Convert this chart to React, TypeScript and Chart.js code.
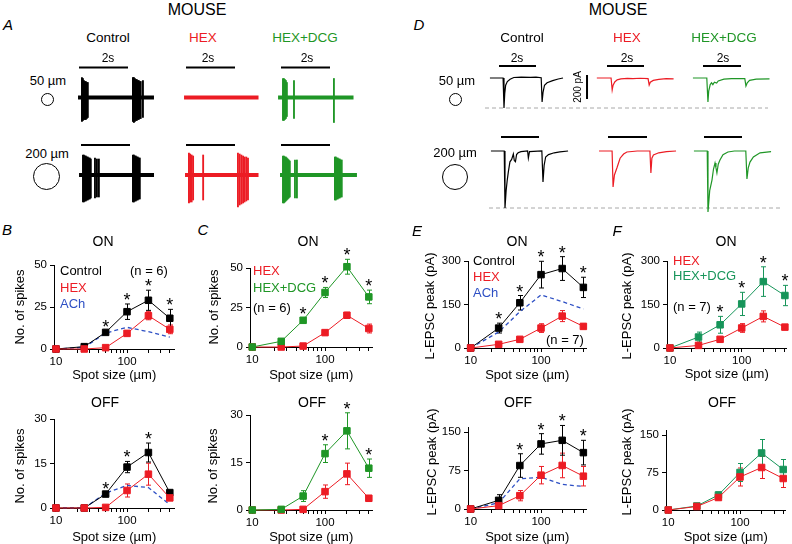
import React, { useEffect, useRef } from 'react';
import { Chart, registerables } from 'chart.js';
Chart.register(...registerables);

const FONT = '"Liberation Sans", Arial, Helvetica, sans-serif';
const BLACK = '#000000';
const RED = '#ec1c24';
const GREEN = '#1f9626';
const TEAL = '#17955a';
const BLUE = '#2d4fc4';
const GRAY = '#a8a8a8';

// ---------------- summary data ----------------
const SPOT_SIZES = [10, 25, 50, 100, 200, 400];
const X_TICKS = [10, 20, 30, 40, 50, 60, 70, 80, 90, 100, 200, 300, 400];
const X_LABELS = [10, 100];

const B_ON_CTRL = [0, 1.4, 9.9, 22.2, 29, 18.3];
const B_ON_CTRL_ERR = [0, 0.6, 0.8, 4.6, 6, 5.3];
const B_ON_HEX = [0, 0, 0.8, 9.3, 19.8, 11.7];
const B_ON_HEX_ERR = [0, 0, 0.5, 1.5, 2.4, 2.6];
const B_ON_ACH = [0, 1, 9.5, 12.9, 10.3, 7];
const B_ON_STARS = [50, 100, 200, 400];

const B_OFF_CTRL = [0, 0, 4.7, 13.8, 18.7, 5.2];
const B_OFF_CTRL_ERR = [0, 0, 0.5, 1.9, 3.2, 0.7];
const B_OFF_HEX = [0, 0, 0.2, 5.9, 11.4, 3.4];
const B_OFF_HEX_ERR = [0, 0, 0.3, 2.2, 3.7, 0.8];
const B_OFF_ACH = [0, 0, 5, 7.6, 6.9, 1.1];
const B_OFF_STARS = [50, 100, 200];

const C_ON_HEX = [0, 0, 0.6, 9.1, 20.1, 11.7];
const C_ON_HEX_ERR = [0, 0, 0.4, 1.5, 1.8, 2.8];
const C_ON_DCG = [0, 3.6, 16.9, 34.5, 50.8, 31.7];
const C_ON_DCG_ERR = [0, 1.5, 1.3, 3.2, 4.7, 4.3];
const C_ON_STARS = [50, 100, 200, 400];

const C_OFF_HEX = [0, 0, 0.2, 5.8, 11.4, 3.7];
const C_OFF_HEX_ERR = [0, 0, 0.3, 2.1, 3.4, 0.9];
const C_OFF_DCG = [0, 0.2, 4.4, 17.8, 25, 13.2];
const C_OFF_DCG_ERR = [0, 0.3, 1.7, 2.8, 5.7, 2.9];
const C_OFF_STARS = [100, 200, 400];

const E_ON_CTRL = [0, 68.7, 156, 253, 274, 209];
const E_ON_CTRL_ERR = [0, 17, 25, 46, 41, 35];
const E_ON_HEX = [0, 12.7, 29.9, 68.7, 110, 74.5];
const E_ON_HEX_ERR = [0, 3, 5, 15, 19, 8];
const E_ON_ACH = [0, 55, 125, 183, 160, 135];
const E_ON_STARS = [25, 50, 100, 200, 400];

const E_OFF_CTRL = [0, 16.9, 84.8, 127, 134, 110];
const E_OFF_CTRL_ERR = [0, 11, 23, 20, 29, 24];
const E_OFF_HEX = [0, 6.5, 26, 66, 85, 64];
const E_OFF_HEX_ERR = [0, 3, 10, 17, 24, 19];
const E_OFF_ACH = [0, 12, 59, 62, 48, 44];
const E_OFF_STARS = [50, 100, 200, 400];

const F_ON_HEX = [0, 9, 30, 69, 109, 72];
const F_ON_HEX_ERR = [0, 3, 5, 15, 19, 8];
const F_ON_DCG = [0, 37.8, 80, 152, 229, 181];
const F_ON_DCG_ERR = [0, 17, 29, 40, 51, 35];
const F_ON_STARS = [50, 100, 200, 400];

const F_OFF_HEX = [0, 7, 25, 66, 85, 63];
const F_OFF_HEX_ERR = [0, 2, 5, 18, 22, 18];
const F_OFF_DCG = [0, 8, 30, 75, 114, 81];
const F_OFF_DCG_ERR = [0, 2, 6, 18, 27, 20];
const F_OFF_STARS: number[] = [];

const SPIKES_TITLE = 'No. of spikes';
const EPSC_TITLE = 'L-EPSC peak (pA)';
const X_TITLE = 'Spot size (µm)';

// ---------------- trace data ----------------
// extracellular spikes: [time s, upper peak, lower peak] (µV, arbitrary)
const A50_CTRL_SPAN = [-0.04, 3.06];
const A50_CTRL_SPIKES = [
  [0.12, 20, -24], [0.16, 19, -23], [0.2, 17, -22], [0.24, 16, -22], [0.28, 16, -22], [0.32, 15, -21], [0.36, 15, -20],
  [2.2, 20, -24], [2.24, 20, -25], [2.28, 19, -24], [2.32, 18, -23], [2.36, 18, -23], [2.4, 17, -22], [2.44, 17, -22],
  [2.48, 16, -21], [2.52, 16, -21], [2.61, 17, -20],
];
const A50_HEX_SPAN = [-0.08, 2.96];
const A50_HEX_SPIKES: number[][] = [];
const A50_DCG_SPAN = [-0.12, 2.96];
const A50_DCG_SPIKES = [
  [0.08, 19, -23], [0.12, 19, -23], [0.16, 18, -22], [0.2, 17, -21], [0.24, 15, -19], [0.53, 17, -21], [2.16, 19, -25],
];
const A200_CTRL_SPAN = [-0.08, 2.98];
const A200_CTRL_SPIKES = [
  [0.08, 20, -27], [0.12, 20, -27], [0.16, 19, -26], [0.2, 19, -26], [0.24, 18, -25], [0.28, 18, -25], [0.32, 17, -24],
  [0.36, 17, -24], [0.4, 16, -23], [0.57, 17, -23], [0.65, 16, -22], [0.73, 16, -22],
  [2.12, 20, -27], [2.16, 20, -27], [2.2, 19, -26], [2.24, 19, -26], [2.28, 18, -25], [2.32, 18, -25], [2.36, 17, -24], [2.4, 17, -24],
];
const A200_HEX_SPAN = [-0.04, 2.96];
const A200_HEX_SPIKES = [
  [0.12, 22, -28], [0.17, 21, -27], [0.23, 20, -27], [0.29, 19, -25], [0.7, 20, -25],
  [2.12, 22, -32], [2.19, 21, -30], [2.26, 20, -29], [2.33, 19, -28], [2.39, 18, -27], [2.46, 18, -26], [2.53, 17, -25],
];
const A200_DCG_SPAN = [-0.04, 3.1];
const A200_DCG_SPIKES = [
  [0.08, 19, -28], [0.12, 19, -28], [0.16, 18, -27], [0.2, 18, -26], [0.24, 17, -25], [0.28, 16, -24], [0.32, 15, -23],
  [0.36, 14, -22], [0.57, 15, -23], [0.65, 15, -23],
  [2.2, 18, -25], [2.24, 18, -25], [2.28, 17, -24], [2.32, 17, -24], [2.36, 16, -23], [2.4, 16, -23], [2.44, 15, -22], [2.48, 15, -22],
];

// L-EPSC currents: [time s, pA]
const D50_CTRL = [[-0.49, 0], [0.22, 0], [0.27, -250], [0.31, -130], [0.36, -60], [0.45, -30], [0.6, -10], [0.8, 4], [1.2, 8], [1.7, 6], [2.0, 8], [2.28, 2], [2.33, -200], [2.38, -120], [2.46, -60], [2.6, -40], [2.9, -22], [3.2, -8], [3.46, 0]];
const D50_HEX = [[-0.55, 0], [0.22, 0], [0.28, -100], [0.33, -60], [0.42, -33], [0.55, -15], [0.75, -8], [1.1, -3], [1.4, -6], [1.8, -2], [2.22, -5], [2.28, -58], [2.34, -35], [2.5, -20], [2.8, -12], [3.2, -6], [3.6, -8]];
const D50_DCG = [[-0.53, 0], [0.2, 0], [0.26, -200], [0.3, -110], [0.38, -55], [0.45, -40], [0.52, -55], [0.6, -35], [0.72, -42], [0.8, -25], [1.1, -10], [1.5, -5], [2.2, -5], [2.26, -67], [2.33, -40], [2.45, -20], [2.8, -10], [3.5, -8]];
const D200_CTRL = [[-0.53, 0], [0.17, 0], [0.21, -475], [0.27, -330], [0.33, -240], [0.39, -170], [0.47, -90], [0.56, -70], [0.65, -25], [0.7, -80], [0.76, -90], [0.82, -30], [0.9, -15], [1.05, -5], [1.4, 0], [1.44, -58], [1.5, -5], [2.15, 0], [2.21, -258], [2.27, -120], [2.35, -50], [2.5, -30], [2.8, -15], [3.1, -8], [3.53, 0]];
const D200_HEX = [[-0.46, 0], [0.21, 0], [0.26, -300], [0.33, -200], [0.46, -140], [0.62, -60], [0.8, -25], [0.97, -8], [1.5, 0], [2.15, 0], [2.2, -183], [2.25, -60], [2.33, -33], [2.6, -15], [3.0, -5], [3.49, 0]];
const D200_DCG = [[-0.53, 0], [0.17, 0], [0.21, -508], [0.3, -330], [0.42, -242], [0.5, -150], [0.58, -100], [0.63, -140], [0.68, -183], [0.75, -110], [0.84, -75], [1.0, -30], [1.26, -8], [1.6, 0], [2.2, 0], [2.26, -233], [2.33, -140], [2.42, -92], [2.6, -50], [2.95, -15], [3.53, -5]];
const D50_PEAK = -250;
const D200_PEAK = -475;
const STIM_DURATION = 2;
const SCALE_BAR_PA = 200;

// ---------------- layout helpers ----------------
type Box = { left: number; top: number; width: number; height: number };

function ChartBox({ box, make }: { box: Box; make: () => any }) {
  const ref = useRef<HTMLCanvasElement>(null);
  useEffect(() => {
    const chart = new Chart(ref.current as HTMLCanvasElement, make());
    return () => chart.destroy();
  }, []);
  return (
    <div style={{ position: 'absolute', left: box.left, top: box.top, width: box.width, height: box.height }}>
      <canvas ref={ref} width={box.width} height={box.height} style={{ width: box.width, height: box.height, display: 'block' }} />
    </div>
  );
}

type Series = { values: number[]; errors?: number[]; color: string; dashed?: boolean };
type Geo = { axisL: number; axisR: number; x10: number; dec: number; y0: number; ppu: number; ymax: number; titleY: number; yTitleX: number; yTitleY: number };
type Panel = { geo: Geo; yTicks: number[]; yTitle: string; series: Series[]; stars: number[]; starRef: number };

const YW = 48, PT = 26, PR = 4;

const errorBarPlugin = {
  id: 'errorBars',
  beforeDatasetsDraw(chart: any) {
    const ctx = chart.ctx;
    const xs = chart.scales.x, ys = chart.scales.y;
    chart.data.datasets.forEach((ds: any) => {
      if (!ds.errors) return;
      ctx.save();
      ctx.strokeStyle = ds.borderColor;
      ctx.lineWidth = 1;
      ds.data.forEach((pt: any, i: number) => {
        const e = ds.errors[i];
        if (!e) return;
        const x = Math.round(xs.getPixelForValue(pt.x)) + 0.5;
        const yT = ys.getPixelForValue(pt.y + e);
        const yB = ys.getPixelForValue(Math.max(pt.y - e, 0));
        ctx.beginPath();
        ctx.moveTo(x, yT); ctx.lineTo(x, yB);
        ctx.moveTo(x - 2.5, yT); ctx.lineTo(x + 2.5, yT);
        ctx.moveTo(x - 2.5, yB); ctx.lineTo(x + 2.5, yB);
        ctx.stroke();
      });
      ctx.restore();
    });
  },
};

function starPlugin(stars: number[], ref: Series) {
  return {
    id: 'stars',
    afterDatasetsDraw(chart: any) {
      const ctx = chart.ctx;
      const xs = chart.scales.x, ys = chart.scales.y;
      ctx.save();
      ctx.fillStyle = BLACK;
      ctx.font = `18px ${FONT}`;
      ctx.textAlign = 'center';
      ctx.textBaseline = 'alphabetic';
      stars.forEach((s) => {
        const i = SPOT_SIZES.indexOf(s);
        const top = ref.values[i] + (ref.errors ? ref.errors[i] : 0);
        ctx.fillText('*', xs.getPixelForValue(s), ys.getPixelForValue(top) + 2);
      });
      ctx.restore();
    },
  };
}

function yTitlePlugin(text: string, x: number, y: number) {
  return {
    id: 'yTitle',
    afterDraw(chart: any) {
      const ctx = chart.ctx;
      ctx.save();
      ctx.translate(x, y);
      ctx.rotate(-Math.PI / 2);
      ctx.fillStyle = BLACK;
      ctx.font = `13px ${FONT}`;
      ctx.textAlign = 'center';
      ctx.textBaseline = 'middle';
      ctx.fillText(text, 0, 0);
      ctx.restore();
    },
  };
}

function plotSetup(p: Panel): { box: Box; make: () => any } {
  const g = p.geo;
  const y0 = Math.round(g.y0);
  const top = Math.round(y0 - g.ymax * g.ppu);
  const XH = Math.round(g.titleY - y0 + 7.8);
  const box = { left: g.axisL - YW, top: top - PT, width: g.axisR - g.axisL + YW + PR, height: y0 - top + PT + XH };
  const xmin = 10 * Math.pow(10, (g.axisL - g.x10) / g.dec);
  const xmax = 10 * Math.pow(10, (g.axisR - g.x10) / g.dec);
  const tickFont = { family: FONT, size: 11.5 };
  const make = () => ({
    type: 'scatter',
    data: {
      datasets: p.series.map((s) => ({
        data: SPOT_SIZES.map((x, i) => ({ x, y: s.values[i] })),
        errors: s.errors,
        showLine: true,
        borderColor: s.color,
        backgroundColor: s.color,
        borderWidth: s.dashed ? 1.3 : 1,
        borderDash: s.dashed ? [4, 3] : [],
        pointStyle: 'rect',
        pointRadius: s.dashed ? 0 : 4.6,
        pointBackgroundColor: s.color,
        pointBorderColor: s.color,
        pointBorderWidth: 1,
        tension: 0,
        clip: false,
      })),
    },
    options: {
      animation: false,
      responsive: false,
      events: [],
      layout: { padding: { top: PT, right: PR, left: 0, bottom: 0 } },
      plugins: { legend: { display: false }, tooltip: { enabled: false }, title: { display: false } },
      scales: {
        x: {
          type: 'logarithmic',
          min: xmin,
          max: xmax,
          afterBuildTicks: (s: any) => { s.ticks = X_TICKS.map((v) => ({ value: v })); },
          afterFit: (s: any) => { s.height = XH; },
          ticks: {
            autoSkip: false, maxRotation: 0, minRotation: 0, color: BLACK, font: tickFont, padding: 2,
            callback: (v: any) => (X_LABELS.includes(Number(v)) ? String(v) : ''),
          },
          grid: { display: true, drawOnChartArea: false, drawTicks: true, tickLength: 4, color: BLACK },
          border: { display: true, color: BLACK, width: 1 },
          title: { display: true, text: X_TITLE, color: BLACK, font: { family: FONT, size: 13 }, padding: 0 },
        },
        y: {
          type: 'linear',
          min: 0,
          max: g.ymax,
          afterBuildTicks: (s: any) => { s.ticks = p.yTicks.map((v) => ({ value: v })); },
          afterFit: (s: any) => { s.width = YW; },
          ticks: { color: BLACK, font: tickFont, padding: 3 },
          grid: { display: true, drawOnChartArea: false, drawTicks: true, tickLength: 4, color: BLACK },
          border: { display: true, color: BLACK, width: 1 },
        },
      },
    },
    plugins: [
      errorBarPlugin,
      starPlugin(p.stars, p.series[p.starRef]),
      yTitlePlugin(p.yTitle, g.yTitleX - box.left, g.yTitleY - box.top),
    ],
  });
  return { box, make };
}

const PANELS: Panel[] = [
  {
    geo: { axisL: 54, axisR: 176, x10: 56, dec: 72, y0: 349, ppu: 1.68, ymax: 50, titleY: 375, yTitleX: 20, yTitleY: 307 },
    yTicks: [0, 25, 50], yTitle: SPIKES_TITLE,
    series: [
      { values: B_ON_HEX, errors: B_ON_HEX_ERR, color: RED },
      { values: B_ON_CTRL, errors: B_ON_CTRL_ERR, color: BLACK },
      { values: B_ON_ACH, color: BLUE, dashed: true },
    ],
    stars: B_ON_STARS, starRef: 1,
  },
  {
    geo: { axisL: 54, axisR: 176, x10: 56, dec: 72, y0: 508, ppu: 2.973, ymax: 30, titleY: 537, yTitleX: 20, yTitleY: 466 },
    yTicks: [0, 15, 30], yTitle: SPIKES_TITLE,
    series: [
      { values: B_OFF_HEX, errors: B_OFF_HEX_ERR, color: RED },
      { values: B_OFF_CTRL, errors: B_OFF_CTRL_ERR, color: BLACK },
      { values: B_OFF_ACH, color: BLUE, dashed: true },
    ],
    stars: B_OFF_STARS, starRef: 1,
  },
  {
    geo: { axisL: 250, axisR: 374, x10: 252.3, dec: 73.7, y0: 347, ppu: 1.576, ymax: 50, titleY: 375, yTitleX: 214, yTitleY: 307 },
    yTicks: [0, 25, 50], yTitle: SPIKES_TITLE,
    series: [
      { values: C_ON_DCG, errors: C_ON_DCG_ERR, color: GREEN },
      { values: C_ON_HEX, errors: C_ON_HEX_ERR, color: RED },
    ],
    stars: C_ON_STARS, starRef: 0,
  },
  {
    geo: { axisL: 250, axisR: 374, x10: 252.3, dec: 73.7, y0: 510, ppu: 3.153, ymax: 30, titleY: 537, yTitleX: 213, yTitleY: 466 },
    yTicks: [0, 15, 30], yTitle: SPIKES_TITLE,
    series: [
      { values: C_OFF_DCG, errors: C_OFF_DCG_ERR, color: GREEN },
      { values: C_OFF_HEX, errors: C_OFF_HEX_ERR, color: RED },
    ],
    stars: C_OFF_STARS, starRef: 0,
  },
  {
    geo: { axisL: 468, axisR: 588, x10: 470.7, dec: 71.3, y0: 348, ppu: 0.2913, ymax: 300, titleY: 375, yTitleX: 430, yTitleY: 306 },
    yTicks: [0, 150, 300], yTitle: EPSC_TITLE,
    series: [
      { values: E_ON_HEX, errors: E_ON_HEX_ERR, color: RED },
      { values: E_ON_CTRL, errors: E_ON_CTRL_ERR, color: BLACK },
      { values: E_ON_ACH, color: BLUE, dashed: true },
    ],
    stars: E_ON_STARS, starRef: 1,
  },
  {
    geo: { axisL: 468, axisR: 588, x10: 470.7, dec: 71.3, y0: 509, ppu: 0.5107, ymax: 160, titleY: 537, yTitleX: 432, yTitleY: 462 },
    yTicks: [0, 75, 150], yTitle: EPSC_TITLE,
    series: [
      { values: E_OFF_HEX, errors: E_OFF_HEX_ERR, color: RED },
      { values: E_OFF_CTRL, errors: E_OFF_CTRL_ERR, color: BLACK },
      { values: E_OFF_ACH, color: BLUE, dashed: true },
    ],
    stars: E_OFF_STARS, starRef: 1,
  },
  {
    geo: { axisL: 667, axisR: 788, x10: 670, dec: 72.7, y0: 348, ppu: 0.2913, ymax: 300, titleY: 374, yTitleX: 627, yTitleY: 306 },
    yTicks: [0, 150, 300], yTitle: EPSC_TITLE,
    series: [
      { values: F_ON_HEX, errors: F_ON_HEX_ERR, color: RED },
      { values: F_ON_DCG, errors: F_ON_DCG_ERR, color: TEAL },
    ],
    stars: F_ON_STARS, starRef: 1,
  },
  {
    geo: { axisL: 666, axisR: 787, x10: 668.3, dec: 72.7, y0: 510, ppu: 0.5027, ymax: 160, titleY: 537, yTitleX: 627, yTitleY: 462 },
    yTicks: [0, 75, 150], yTitle: EPSC_TITLE,
    series: [
      { values: F_OFF_HEX, errors: F_OFF_HEX_ERR, color: RED },
      { values: F_OFF_DCG, errors: F_OFF_DCG_ERR, color: TEAL },
    ],
    stars: F_OFF_STARS, starRef: 1,
  },
];

// ---------------- trace charts ----------------
type TraceGeo = { box: Box; t0: number; pxPerSec: number; base: number; pxPerUnit: number };

function traceConfig(g: TraceGeo, datasets: any[]) {
  const xmin = (g.box.left - g.t0) / g.pxPerSec;
  const xmax = (g.box.left + g.box.width - g.t0) / g.pxPerSec;
  const ymax = (g.base - g.box.top) / g.pxPerUnit;
  const ymin = -(g.box.top + g.box.height - g.base) / g.pxPerUnit;
  return {
    type: 'scatter',
    data: { datasets },
    options: {
      animation: false,
      responsive: false,
      events: [],
      layout: { padding: 0 },
      plugins: { legend: { display: false }, tooltip: { enabled: false } },
      scales: {
        x: { type: 'linear', display: false, min: xmin, max: xmax, offset: false },
        y: { type: 'linear', display: false, min: ymin, max: ymax },
      },
    },
  };
}

const lineDs = (pts: number[][], color: string, width: number, dash: number[] = []) => ({
  data: pts.map(([x, y]) => ({ x, y })),
  showLine: true,
  pointRadius: 0,
  borderColor: color,
  borderWidth: width,
  borderDash: dash,
  tension: 0,
  clip: false,
});

const spikeDs = (spikes: number[][], color: string) => ({
  type: 'bar',
  data: spikes.map(([t, hi, lo]) => ({ x: t, y: [lo, hi] })),
  backgroundColor: color,
  borderWidth: 0,
  barThickness: 1.2,
  grouped: false,
  clip: false,
});

const A_STIM_LEVEL = 30;
const D50_STIM_LEVEL = 100;
const D200_STIM_LEVEL = 117;

function aTrace(box: Box, t0: number, base: number, span: number[], spikes: number[][], color: string) {
  const g: TraceGeo = { box, t0, pxPerSec: 24.5, base, pxPerUnit: 1 };
  return {
    box,
    make: () => traceConfig(g, [
      lineDs([[0, A_STIM_LEVEL], [STIM_DURATION, A_STIM_LEVEL]], BLACK, 2),
      spikeDs(spikes, color),
      lineDs([[span[0], 0], [span[1], 0]], color, 4),
    ]),
  };
}

function dTrace(box: Box, t0: number, pxPerSec: number, base: number, pts: number[][], color: string, stim: number, scaleBarT?: number) {
  const g: TraceGeo = { box, t0, pxPerSec, base, pxPerUnit: 0.12 };
  const ds: any[] = [lineDs([[0, stim], [STIM_DURATION, stim]], BLACK, 2), lineDs(pts, color, 1.2)];
  if (scaleBarT !== undefined) ds.push(lineDs([[scaleBarT, 25], [scaleBarT, 25 - SCALE_BAR_PA]], BLACK, 2));
  return { box, make: () => traceConfig(g, ds) };
}

function dashedRow(box: Box, base: number, peak: number) {
  const g: TraceGeo = { box, t0: box.left, pxPerSec: box.width, base, pxPerUnit: 0.12 };
  return { box, make: () => traceConfig(g, [lineDs([[0, peak], [1, peak]], GRAY, 1, [4, 3])]) };
}

const TRACES = [
  aTrace({ left: 76, top: 60, width: 80, height: 68 }, 79, 97.5, A50_CTRL_SPAN, A50_CTRL_SPIKES, BLACK),
  aTrace({ left: 182, top: 60, width: 80, height: 68 }, 186, 97.5, A50_HEX_SPAN, A50_HEX_SPIKES, RED),
  aTrace({ left: 276, top: 60, width: 81, height: 68 }, 281, 97.5, A50_DCG_SPAN, A50_DCG_SPIKES, GREEN),
  aTrace({ left: 77, top: 138, width: 79, height: 72 }, 81, 175, A200_CTRL_SPAN, A200_CTRL_SPIKES, BLACK),
  aTrace({ left: 183, top: 138, width: 79, height: 72 }, 186, 175, A200_HEX_SPAN, A200_HEX_SPIKES, RED),
  aTrace({ left: 278, top: 138, width: 81, height: 72 }, 281, 175, A200_DCG_SPAN, A200_DCG_SPIKES, GREEN),
  dashedRow({ left: 485, top: 60, width: 283, height: 52 }, 78, D50_PEAK),
  dashedRow({ left: 489, top: 130, width: 293, height: 86 }, 151, D200_PEAK),
  dTrace({ left: 488, top: 60, width: 78, height: 52 }, 499, 18.5, 78, D50_CTRL, BLACK, D50_STIM_LEVEL),
  dTrace({ left: 583, top: 60, width: 91, height: 52 }, 607, 18.5, 78, D50_HEX, RED, D50_STIM_LEVEL, -1.08),
  dTrace({ left: 691, top: 60, width: 81, height: 52 }, 703, 19, 78, D50_DCG, GREEN, D50_STIM_LEVEL),
  dTrace({ left: 489, top: 130, width: 81, height: 86 }, 501, 19, 151, D200_CTRL, BLACK, D200_STIM_LEVEL),
  dTrace({ left: 597, top: 130, width: 81, height: 86 }, 608, 19.5, 151, D200_HEX, RED, D200_STIM_LEVEL),
  dTrace({ left: 692, top: 130, width: 82, height: 86 }, 704, 19, 151, D200_DCG, GREEN, D200_STIM_LEVEL),
];

// ---------------- text ----------------
type Txt = { t: string; x: number; y: number; s: number; c?: string; i?: boolean; left?: boolean; rot?: boolean };
const TEXTS: Txt[] = [
  { t: 'MOUSE', x: 197, y: 10, s: 16 },
  { t: 'MOUSE', x: 618, y: 10, s: 16 },
  { t: 'A', x: 8, y: 24, s: 15, i: true },
  { t: 'D', x: 419, y: 24, s: 15, i: true },
  { t: 'Control', x: 108, y: 38, s: 13.5 },
  { t: 'HEX', x: 203, y: 38, s: 13.5, c: RED },
  { t: 'HEX+DCG', x: 305, y: 38, s: 13.5, c: GREEN },
  { t: 'Control', x: 522, y: 38, s: 13.5 },
  { t: 'HEX', x: 627, y: 38, s: 13.5, c: RED },
  { t: 'HEX+DCG', x: 724, y: 38, s: 13.5, c: GREEN },
  { t: '2s', x: 108, y: 58, s: 12 },
  { t: '2s', x: 208, y: 58, s: 12 },
  { t: '2s', x: 307, y: 58, s: 12 },
  { t: '2s', x: 517, y: 58, s: 12 },
  { t: '2s', x: 627, y: 58, s: 12 },
  { t: '2s', x: 723, y: 58, s: 12 },
  { t: '50 µm', x: 48, y: 80, s: 13 },
  { t: '200 µm', x: 47, y: 153, s: 13 },
  { t: '50 µm', x: 457, y: 80, s: 13 },
  { t: '200 µm', x: 455, y: 152, s: 13 },
  { t: '200 pA', x: 578, y: 87, s: 10, rot: true },
  { t: 'B', x: 7, y: 229, s: 15, i: true },
  { t: 'C', x: 203, y: 229, s: 15, i: true },
  { t: 'E', x: 417, y: 230, s: 15, i: true },
  { t: 'F', x: 617, y: 230, s: 15, i: true },
  { t: 'ON', x: 103, y: 241, s: 14 },
  { t: 'OFF', x: 105, y: 402, s: 14 },
  { t: 'ON', x: 308, y: 241, s: 14 },
  { t: 'OFF', x: 312, y: 402, s: 14 },
  { t: 'ON', x: 517, y: 241, s: 14 },
  { t: 'OFF', x: 518, y: 402, s: 14 },
  { t: 'ON', x: 726, y: 241, s: 14 },
  { t: 'OFF', x: 722, y: 402, s: 14 },
  { t: 'Control', x: 60, y: 270, s: 13, left: true },
  { t: 'HEX', x: 60, y: 287, s: 13, left: true, c: RED },
  { t: 'ACh', x: 60, y: 303, s: 13, left: true, c: BLUE },
  { t: '(n = 6)', x: 130, y: 270, s: 13, left: true },
  { t: 'HEX', x: 253, y: 270, s: 13, left: true, c: RED },
  { t: 'HEX+DCG', x: 253, y: 287, s: 13, left: true, c: GREEN },
  { t: '(n = 6)', x: 253, y: 307, s: 13, left: true },
  { t: 'Control', x: 473, y: 260, s: 13, left: true },
  { t: 'HEX', x: 473, y: 276, s: 13, left: true, c: RED },
  { t: 'ACh', x: 473, y: 292, s: 13, left: true, c: BLUE },
  { t: '(n = 7)', x: 546, y: 339, s: 13, left: true },
  { t: 'HEX', x: 673, y: 260, s: 13, left: true, c: RED },
  { t: 'HEX+DCG', x: 673, y: 275, s: 13, left: true, c: TEAL },
  { t: '(n = 7)', x: 673, y: 306, s: 13, left: true },
];

const CIRCLES = [
  { x: 47, y: 99.5, r: 6.5 },
  { x: 46.5, y: 176, r: 13.5 },
  { x: 455, y: 99.3, r: 6.5 },
  { x: 454.5, y: 176.5, r: 13 },
];

export default function App() {
  const plots = PANELS.map(plotSetup);
  return (
    <div style={{ position: 'absolute', left: 0, top: 0, width: 792, height: 544, overflow: 'hidden', background: '#fff', fontFamily: FONT }}>
      {TRACES.map((t, i) => <ChartBox key={'t' + i} box={t.box} make={t.make} />)}
      {plots.map((p, i) => <ChartBox key={'p' + i} box={p.box} make={p.make} />)}
      {CIRCLES.map((c, i) => (
        <div key={'c' + i} style={{ position: 'absolute', left: c.x - c.r, top: c.y - c.r, width: 2 * c.r, height: 2 * c.r, border: '1px solid #000', borderRadius: '50%', boxSizing: 'border-box' }} />
      ))}
      {TEXTS.map((t, i) => (
        <div key={'x' + i} style={{
          position: 'absolute', left: t.x, top: t.y, whiteSpace: 'nowrap', lineHeight: 1,
          fontSize: t.s, color: t.c || BLACK, fontStyle: t.i ? 'italic' : 'normal', fontFamily: FONT,
          transform: `translate(${t.left ? '0' : '-50%'}, -50%)${t.rot ? ' rotate(-90deg)' : ''}`,
        }}>{t.t}</div>
      ))}
    </div>
  );
}
